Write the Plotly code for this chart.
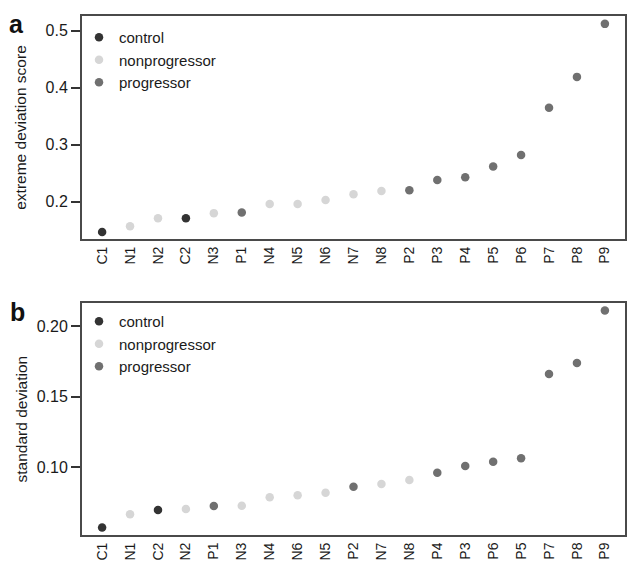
import plotly.graph_objects as go

# ---- data ----
cats_a = ["C1","N1","N2","C2","N3","P1","N4","N5","N6","N7","N8","P2","P3","P4","P5","P6","P7","P8","P9"]
vals_a = [0.147,0.157,0.171,0.171,0.180,0.181,0.196,0.196,0.203,0.213,0.219,0.220,0.238,0.243,0.262,0.282,0.365,0.419,0.512]

cats_b = ["C1","N1","C2","N2","P1","N3","N4","N6","N5","P2","N7","N8","P4","P3","P6","P5","P7","P8","P9"]
vals_b = [0.0574,0.0667,0.0698,0.0705,0.0726,0.0728,0.0788,0.0802,0.0820,0.0863,0.0882,0.0910,0.0962,0.1009,0.1040,0.1064,0.1660,0.1737,0.2110]

groups = ["control", "nonprogressor", "progressor"]
group_prefix = {"control": "C", "nonprogressor": "N", "progressor": "P"}
group_color = {"control": "#333333", "nonprogressor": "#d6d6d6", "progressor": "#707070"}

FONT = "Liberation Sans, Arial, sans-serif"
TXT = "#1a1a1a"

fig = go.Figure()

for cats, vals, xa, ya, leg in [(cats_a, vals_a, "x", "y", "legend"), (cats_b, vals_b, "x2", "y2", "legend2")]:
    for g in groups:
        xs = [c for c in cats if c.startswith(group_prefix[g])]
        ys = [v for c, v in zip(cats, vals) if c.startswith(group_prefix[g])]
        fig.add_trace(go.Scatter(
            x=xs, y=ys, mode="markers", name=g, xaxis=xa, yaxis=ya, legend=leg,
            marker=dict(color=group_color[g], size=8.5, symbol="circle",
                        line=dict(width=0)),
        ))

axis_common = dict(showline=True, mirror=True, linecolor="#4a4a4a", linewidth=2,
                   showgrid=False, zeroline=False)

W, H = 631, 565
ML, MR, MT, MB = 82, 4, 16, 30
plot_w = W - ML - MR
plot_h = H - MT - MB

def px_to_paper(px, py):
    return (px - ML) / plot_w, (H - MB - py) / plot_h

xtickfont = dict(family=FONT, size=14, color=TXT)
ytickfont = dict(family=FONT, size=16, color=TXT)
titlefont = dict(family=FONT, size=15.5, color=TXT)
legfont = dict(family=FONT, size=15, color=TXT)

ax_, ay_ = px_to_paper(16, 24)
bx_, by_ = px_to_paper(17, 312)
lax, lay = px_to_paper(79, 21)
lbx, lby = px_to_paper(79, 305)

fig.update_layout(
    width=W, height=H,
    margin=dict(l=ML, r=MR, t=MT, b=MB),
    paper_bgcolor="white", plot_bgcolor="white",
    font=dict(family=FONT, size=14, color=TXT),
    xaxis=dict(domain=[0, 1], anchor="y", type="category", categoryorder="array",
               categoryarray=cats_a, range=[-0.72, 18.72], tickangle=-90,
               ticks="", tickfont=xtickfont, **axis_common),
    yaxis=dict(domain=[0.5703, 1], anchor="x", range=[0.1346, 0.5258],
               tickvals=[0.2, 0.3, 0.4, 0.5], ticktext=["0.2", "0.3", "0.4", "0.5"],
               ticks="outside", ticklen=9, tickwidth=1.5, tickcolor="#333333",
               tickfont=ytickfont,
               title=dict(text="extreme deviation score", standoff=15, font=titlefont),
               **axis_common),
    xaxis2=dict(domain=[0, 1], anchor="y2", type="category", categoryorder="array",
                categoryarray=cats_b, range=[-0.72, 18.72], tickangle=-90,
                ticks="", tickfont=xtickfont, **axis_common),
    yaxis2=dict(domain=[0, 0.4464], anchor="x2", range=[0.0521, 0.216],
                tickvals=[0.10, 0.15, 0.20], ticktext=["0.10", "0.15", "0.20"],
                ticks="outside", ticklen=9, tickwidth=1.5, tickcolor="#333333",
                tickfont=ytickfont,
                title=dict(text="standard deviation", standoff=5, font=titlefont),
                **axis_common),
    legend=dict(x=lax, y=lay, xanchor="left", yanchor="top",
                bgcolor="rgba(0,0,0,0)", font=legfont, tracegroupgap=0, itemwidth=30),
    legend2=dict(x=lbx, y=lby, xanchor="left", yanchor="top",
                 bgcolor="rgba(0,0,0,0)", font=legfont, tracegroupgap=0, itemwidth=30),
    annotations=[
        dict(text="<b>a</b>", x=ax_, y=ay_, xref="paper", yref="paper",
             xanchor="center", yanchor="middle", showarrow=False,
             font=dict(family=FONT, size=25, color="#111111")),
        dict(text="<b>b</b>", x=bx_, y=by_, xref="paper", yref="paper",
             xanchor="center", yanchor="middle", showarrow=False,
             font=dict(family=FONT, size=25, color="#111111")),
    ],
)

fig.write_html("out.html", config={"displayModeBar": False},
               post_script="document.body.style.margin='0';document.body.style.overflow='hidden';")
